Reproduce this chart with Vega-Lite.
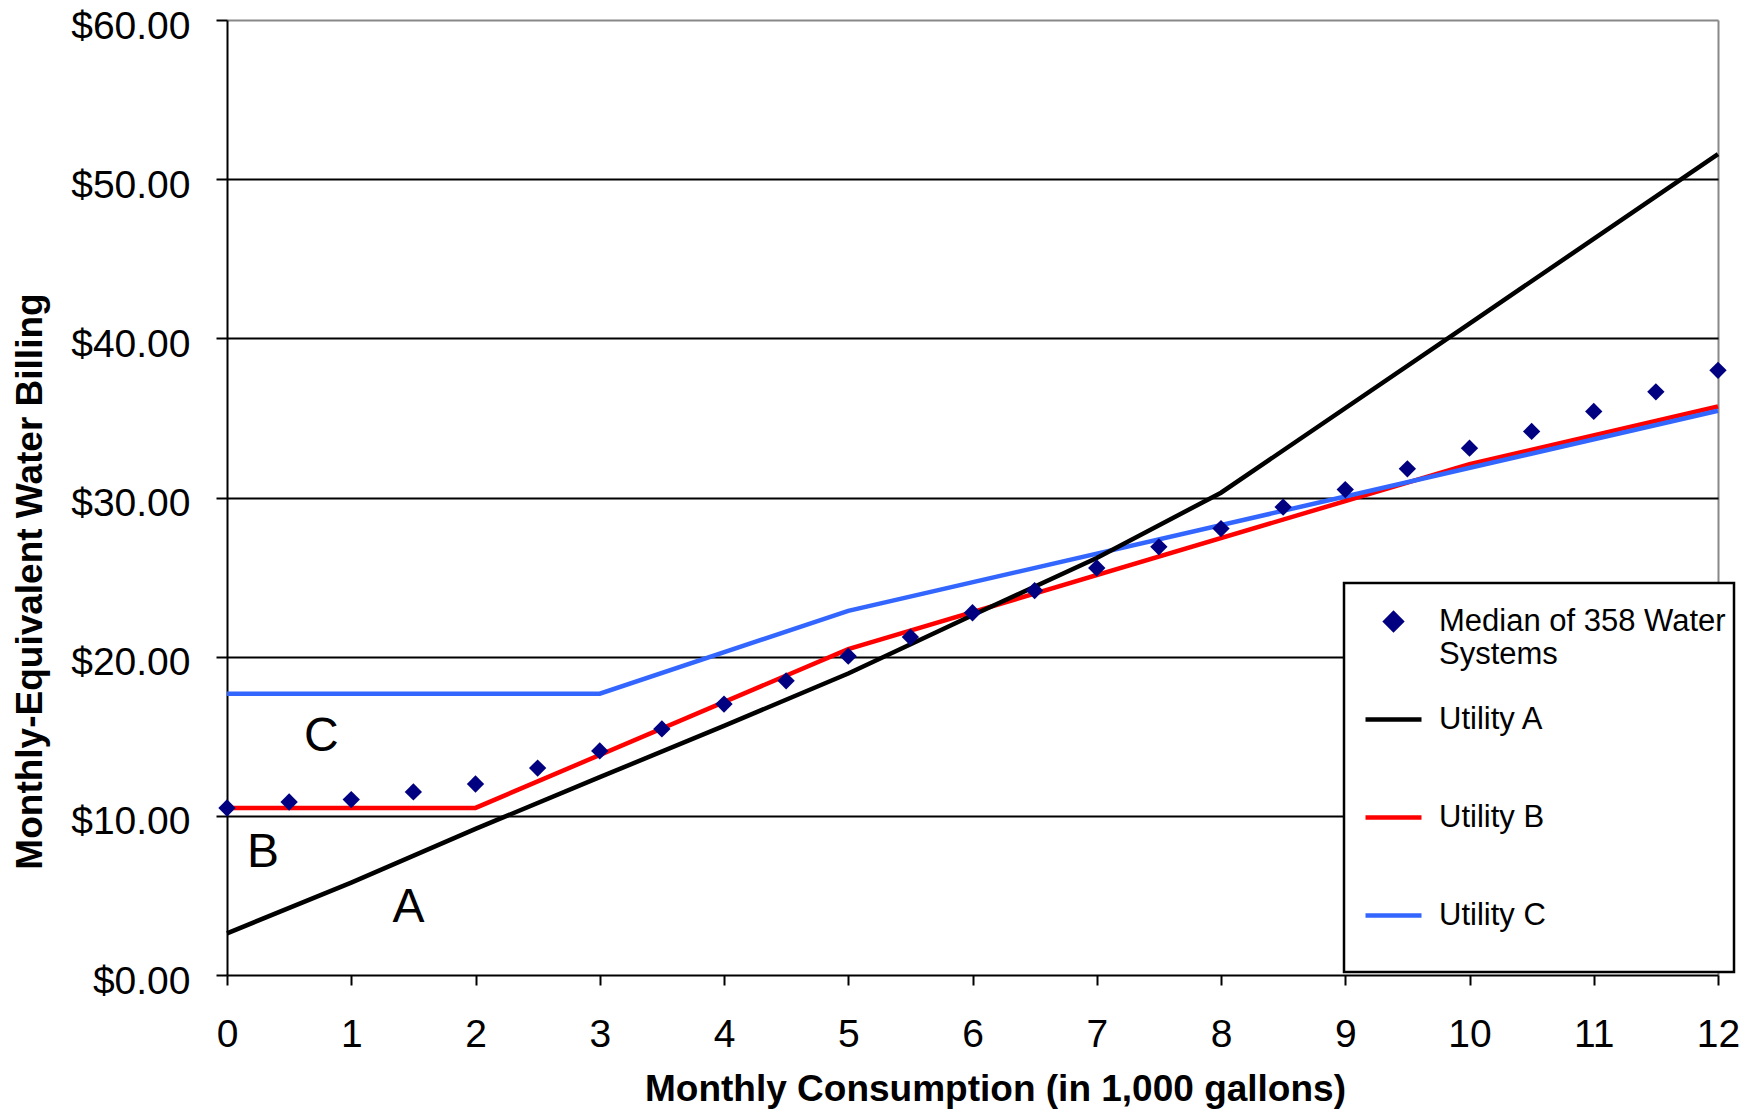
{
  "$schema": "https://vega.github.io/schema/vega-lite/v6.json",
  "width": 1491,
  "height": 955,
  "autosize": {"type": "none"},
  "padding": {"left": 227, "top": 20, "right": 34, "bottom": 135},
  "background": "white",
  "config": {
    "view": {"stroke": null},
    "font": "Liberation Sans",
    "axis": {"labelColor": "black", "titleColor": "black", "tickColor": "black", "domainColor": "black"}
  },
  "datasets": {
    "series": [
      {"series": "Median of 358 Water Systems", "gallons": 0, "bill": 10.49},
      {"series": "Median of 358 Water Systems", "gallons": 0.5, "bill": 10.87},
      {"series": "Median of 358 Water Systems", "gallons": 1, "bill": 11.02},
      {"series": "Median of 358 Water Systems", "gallons": 1.5, "bill": 11.5},
      {"series": "Median of 358 Water Systems", "gallons": 2, "bill": 12.0},
      {"series": "Median of 358 Water Systems", "gallons": 2.5, "bill": 13.0},
      {"series": "Median of 358 Water Systems", "gallons": 3, "bill": 14.08},
      {"series": "Median of 358 Water Systems", "gallons": 3.5, "bill": 15.46},
      {"series": "Median of 358 Water Systems", "gallons": 4, "bill": 17.02},
      {"series": "Median of 358 Water Systems", "gallons": 4.5, "bill": 18.48},
      {"series": "Median of 358 Water Systems", "gallons": 5, "bill": 20.03},
      {"series": "Median of 358 Water Systems", "gallons": 5.5, "bill": 21.23},
      {"series": "Median of 358 Water Systems", "gallons": 6, "bill": 22.76},
      {"series": "Median of 358 Water Systems", "gallons": 6.5, "bill": 24.15},
      {"series": "Median of 358 Water Systems", "gallons": 7, "bill": 25.57},
      {"series": "Median of 358 Water Systems", "gallons": 7.5, "bill": 26.9},
      {"series": "Median of 358 Water Systems", "gallons": 8, "bill": 28.05},
      {"series": "Median of 358 Water Systems", "gallons": 8.5, "bill": 29.4},
      {"series": "Median of 358 Water Systems", "gallons": 9, "bill": 30.5},
      {"series": "Median of 358 Water Systems", "gallons": 9.5, "bill": 31.8},
      {"series": "Median of 358 Water Systems", "gallons": 10, "bill": 33.1},
      {"series": "Median of 358 Water Systems", "gallons": 10.5, "bill": 34.15},
      {"series": "Median of 358 Water Systems", "gallons": 11, "bill": 35.41},
      {"series": "Median of 358 Water Systems", "gallons": 11.5, "bill": 36.64},
      {"series": "Median of 358 Water Systems", "gallons": 12, "bill": 37.99},
      {"series": "Utility A", "gallons": 0, "bill": 2.62},
      {"series": "Utility A", "gallons": 1, "bill": 5.8},
      {"series": "Utility A", "gallons": 2, "bill": 9.18},
      {"series": "Utility A", "gallons": 3, "bill": 12.43},
      {"series": "Utility A", "gallons": 4, "bill": 15.65},
      {"series": "Utility A", "gallons": 5, "bill": 18.94},
      {"series": "Utility A", "gallons": 6, "bill": 22.6},
      {"series": "Utility A", "gallons": 7, "bill": 26.2},
      {"series": "Utility A", "gallons": 8, "bill": 30.3},
      {"series": "Utility A", "gallons": 10, "bill": 40.93},
      {"series": "Utility A", "gallons": 12, "bill": 51.57},
      {"series": "Utility B", "gallons": 0, "bill": 10.5},
      {"series": "Utility B", "gallons": 2, "bill": 10.5},
      {"series": "Utility B", "gallons": 5, "bill": 20.47},
      {"series": "Utility B", "gallons": 10, "bill": 32.1},
      {"series": "Utility B", "gallons": 12, "bill": 35.72},
      {"series": "Utility C", "gallons": 0, "bill": 17.67},
      {"series": "Utility C", "gallons": 3, "bill": 17.67},
      {"series": "Utility C", "gallons": 5, "bill": 22.88},
      {"series": "Utility C", "gallons": 12, "bill": 35.45}
    ],
    "labels": [
      {"label": "A", "gallons": 1.46, "bill": 4.2},
      {"label": "B", "gallons": 0.29, "bill": 7.65},
      {"label": "C", "gallons": 0.76, "bill": 14.95}
    ]
  },
  "layer": [
    {
      "data": {"name": "series"},
      "transform": [{"filter": "datum.series === 'Utility B'"}],
      "mark": {"type": "line", "strokeWidth": 4.5, "clip": false},
      "encoding": {
        "x": {
          "field": "gallons", "type": "quantitative",
          "scale": {"domain": [0, 12], "nice": false, "zero": false},
          "axis": {
            "values": [0, 0.5, 1, 1.5, 2, 2.5, 3, 3.5, 4, 4.5, 5, 5.5, 6, 6.5, 7, 7.5, 8, 8.5, 9, 9.5, 10, 10.5, 11, 11.5, 12],
            "format": "d",
            "labelExpr": "datum.value % 1 === 0 ? datum.label : ''",
            "title": "Monthly Consumption (in 1,000 gallons)",
            "titleFont": "Liberation Sans",
            "titleFontSize": 37,
            "titleFontWeight": "bold",
            "titleX": 768,
            "titleY": 125,
            "titleBaseline": "alphabetic",
            "titleAlign": "center",
            "titleAnchor": null,
            "labelFont": "Liberation Sans",
            "labelFontSize": 39,
            "labelPadding": 30,
            "labelFlush": false,
            "labelOverlap": false,
            "tickSize": 10,
            "tickWidth": 2,
            "domainWidth": 2,
            "grid": true,
            "gridColor": "#888888",
            "gridWidth": 2,
            "gridOpacity": {"condition": {"test": "datum.value === 12", "value": 1}, "value": 0}
          }
        },
        "y": {
          "field": "bill", "type": "quantitative",
          "scale": {"domain": [0, 60], "nice": false},
          "axis": {
            "values": [0, 10, 20, 30, 40, 50, 60],
            "format": "$.2f",
            "title": "Monthly-Equivalent Water Billing",
            "titleFont": "Liberation Sans",
            "titleFontSize": 37,
            "titleFontWeight": "bold",
            "titleAngle": -90,
            "titleX": -186,
            "titleY": 561,
            "titleBaseline": "alphabetic",
            "titleAlign": "center",
            "titleAnchor": null,
            "labelFont": "Liberation Sans",
            "labelFontSize": 39,
            "labelPadding": 26,
            "labelBaseline": "alphabetic",
            "labelOffset": 18,
            "labelOverlap": false,
            "labelFlush": false,
            "tickSize": 11,
            "tickWidth": 2,
            "domainWidth": 2,
            "grid": true,
            "gridWidth": 2,
            "gridColor": {"condition": {"test": "datum.value === 60", "value": "#888888"}, "value": "black"},
            "gridOpacity": {"condition": {"test": "datum.value === 0", "value": 0}, "value": 1}
          }
        },
        "color": {
          "field": "series", "type": "nominal",
          "scale": {
            "domain": ["Median of 358 Water Systems", "Utility A", "Utility B", "Utility C"],
            "range": ["#000080", "#000000", "#ff0000", "#3366ff"]
          },
          "legend": {
            "title": null,
            "orient": "none",
            "legendX": 1117,
            "legendY": 563,
            "padding": 8,
            "strokeColor": "black",
            "fillColor": "white",
            "labelFont": "Liberation Sans",
            "labelFontSize": 31,
            "labelColor": "black",
            "labelLimit": 500,
            "labelOffset": 15,
            "symbolOffset": 11,
            "symbolSize": 3136,
            "symbolStrokeWidth": 4,
            "rowPadding": 19,
            "gridAlign": "each",
            "labelExpr": "datum.label === 'Median of 358 Water Systems' ? ['Median of 358 Water', 'Systems'] : [datum.label, '']",
            "encode": {
              "symbols": {
                "update": {
                  "shape": {"signal": "datum.value === 'Median of 358 Water Systems' ? 'diamond' : 'stroke'"},
                  "size": {"signal": "datum.value === 'Median of 358 Water Systems' ? 256 : 3136"},
                  "fill": {"signal": "datum.value === 'Median of 358 Water Systems' ? '#000080' : 'transparent'"},
                  "stroke": {"signal": "datum.value === 'Median of 358 Water Systems' ? 'transparent' : scale('color', datum.value)"},
                  "strokeWidth": {"value": 4.5},
                  "opacity": {"value": 1}
                }
              },
              "legend": {"update": {"strokeWidth": {"value": 2.5}}}
            }
          }
        }
      }
    },
    {
      "data": {"name": "series"},
      "transform": [{"filter": "datum.series === 'Utility C'"}],
      "mark": {"type": "line", "strokeWidth": 4.5, "clip": false},
      "encoding": {
        "x": {"field": "gallons", "type": "quantitative"},
        "y": {"field": "bill", "type": "quantitative"},
        "color": {"field": "series", "type": "nominal"}
      }
    },
    {
      "data": {"name": "series"},
      "transform": [{"filter": "datum.series === 'Utility A'"}],
      "mark": {"type": "line", "strokeWidth": 4.5, "clip": false},
      "encoding": {
        "x": {"field": "gallons", "type": "quantitative"},
        "y": {"field": "bill", "type": "quantitative"},
        "color": {"field": "series", "type": "nominal"}
      }
    },
    {
      "data": {"name": "series"},
      "transform": [{"filter": "datum.series === 'Median of 358 Water Systems'"}],
      "mark": {"type": "point", "shape": "diamond", "filled": true, "size": 300, "opacity": 1, "clip": false},
      "encoding": {
        "x": {"field": "gallons", "type": "quantitative"},
        "y": {"field": "bill", "type": "quantitative"},
        "color": {"field": "series", "type": "nominal"}
      }
    },
    {
      "data": {"name": "labels"},
      "mark": {"type": "text", "font": "Liberation Sans", "fontSize": 48, "color": "black", "align": "center", "baseline": "middle"},
      "encoding": {
        "x": {"field": "gallons", "type": "quantitative"},
        "y": {"field": "bill", "type": "quantitative"},
        "text": {"field": "label", "type": "nominal"}
      }
    }
  ]
}
